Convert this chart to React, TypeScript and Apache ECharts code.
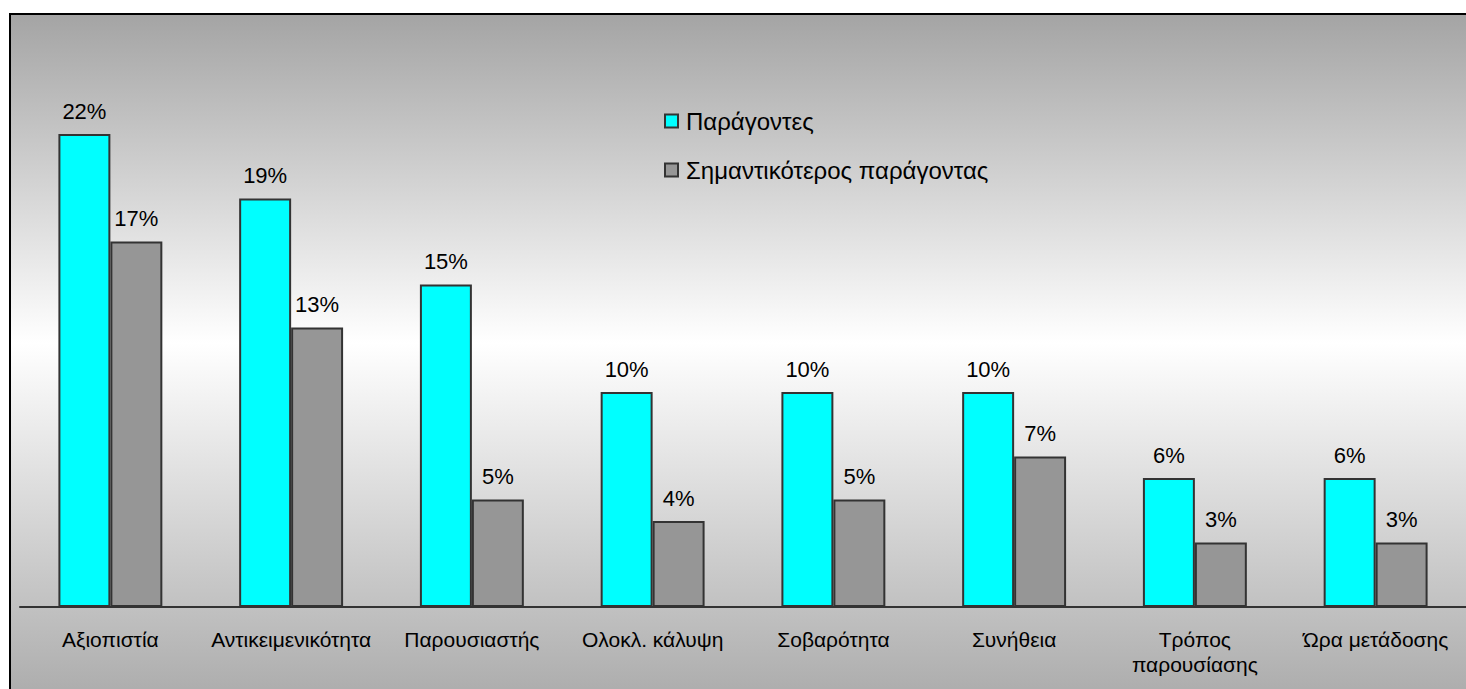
import React, { useEffect, useRef } from "react";
import * as echarts from "echarts";

const categories = [
  "Αξιοπιστία",
  "Αντικειμενικότητα",
  "Παρουσιαστής",
  "Ολοκλ. κάλυψη",
  "Σοβαρότητα",
  "Συνήθεια",
  "Τρόπος\nπαρουσίασης",
  "Ώρα μετάδοσης",
];
const seriesNames = ["Παράγοντες", "Σημαντικότερος παράγοντας"];
const factors = [22, 19, 15, 10, 10, 10, 6, 6];
const mostImportant = [17, 13, 5, 4, 5, 7, 3, 3];

const FONT = "'Liberation Sans', Arial, sans-serif";

export default function App() {
  const ref = useRef<HTMLDivElement>(null);
  useEffect(() => {
    if (!ref.current) return;
    const chart = echarts.init(ref.current, null, { renderer: "svg" });
    const labelCfg = {
      show: true,
      position: "top",
      distance: 12,
      formatter: "{c}%",
      color: "#000",
      fontSize: 22,
      fontFamily: FONT,
    };
    chart.setOption({
      animation: false,
      textStyle: { fontFamily: FONT },
      graphic: [
        {
          type: "rect",
          z: -100,
          silent: true,
          shape: { x: 10, y: 14, width: 1480, height: 700 },
          style: {
            fill: new echarts.graphic.LinearGradient(0, 0, 0, 1, [
              { offset: 0, color: "#a4a4a4" },
              { offset: 0.47, color: "#ffffff" },
              { offset: 1, color: "#a8a8a8" },
            ]),
            stroke: "#000",
            lineWidth: 2,
          },
        },
      ],
      legend: {
        orient: "vertical",
        left: 664,
        top: 109,
        padding: 0,
        itemWidth: 13,
        itemHeight: 13,
        itemGap: 25,
        icon: "rect",
        textStyle: { fontSize: 24, color: "#000", fontFamily: FONT, padding: [0, 0, 0, 3] },
        data: seriesNames,
      },
      grid: { left: 20, top: 69.5, width: 1448, height: 537.5 },
      xAxis: {
        type: "category",
        data: categories,
        axisLine: { lineStyle: { color: "#333", width: 2 } },
        axisTick: { length: 7, lineStyle: { color: "#333", width: 2 } },
        axisLabel: {
          color: "#000",
          fontSize: 21,
          fontFamily: FONT,
          margin: 20,
          lineHeight: 25,
          interval: 0,
        },
      },
      yAxis: {
        type: "value",
        min: 0,
        max: 25,
        show: false,
        splitLine: { show: false },
      },
      series: [
        {
          name: seriesNames[0],
          type: "bar",
          data: factors,
          barGap: "0%",
          barCategoryGap: "42.5%",
          itemStyle: { color: "#00ffff", borderColor: "#333", borderWidth: 2 },
          label: labelCfg,
        },
        {
          name: seriesNames[1],
          type: "bar",
          data: mostImportant,
          barGap: "0%",
          barCategoryGap: "42.5%",
          itemStyle: { color: "#969696", borderColor: "#333", borderWidth: 2 },
          label: labelCfg,
        },
      ],
    });
    return () => chart.dispose();
  }, []);
  return (
    <div
      ref={ref}
      style={{ position: "fixed", left: 0, top: 0, width: 1466, height: 689, background: "#fff" }}
    />
  );
}
